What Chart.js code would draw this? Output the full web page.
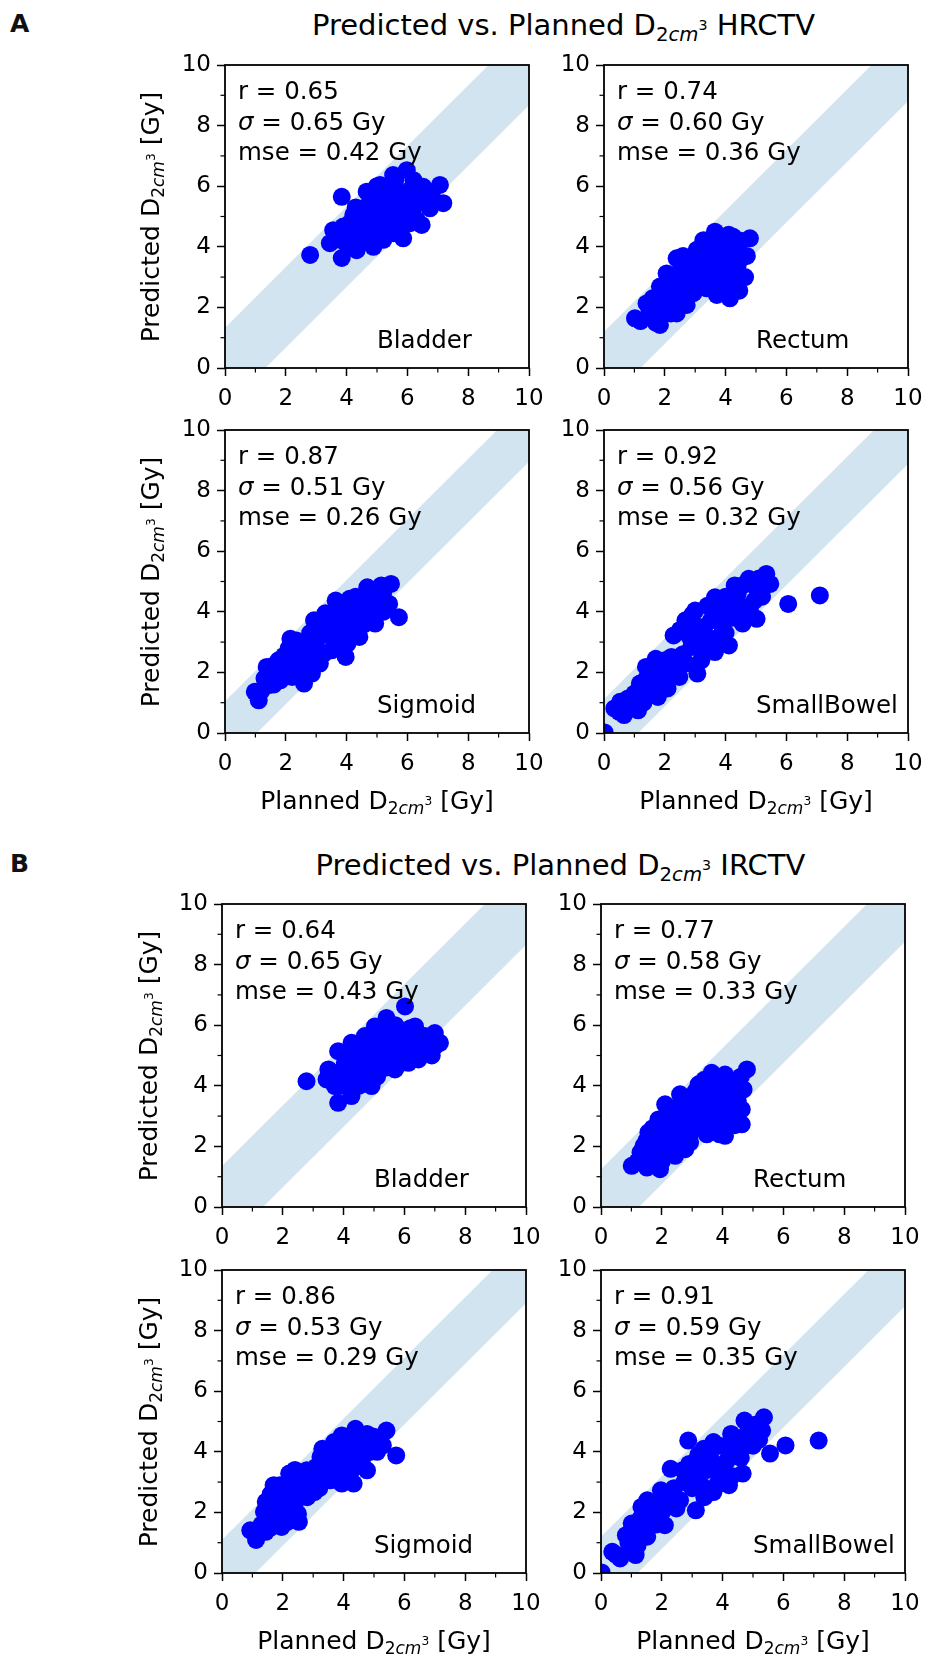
<!DOCTYPE html>
<html>
<head>
<meta charset="utf-8">
<script src="https://cdn.jsdelivr.net/npm/chart.js@4.4.0/dist/chart.umd.min.js"></script>
<style>
  body { margin: 0; background: #fff; }
  #page { position: relative; width: 927px; height: 1654px; overflow: hidden;
          font-family: 'DejaVu Sans', sans-serif; color: #000; }
  canvas { position: absolute; }
  .txt { position: absolute; white-space: nowrap; }
  .letter { font-size: 25px; font-weight: bold; line-height: 30px; color: #111; }
  .title { font-size: 29px; line-height: 34px; transform: translateX(-50%); }
  .axlab { font-size: 25px; line-height: 30px; }
  .ylab { transform: translate(-50%, -50%) rotate(-90deg); }
  .xlab { transform: translateX(-50%); }
  .stats { font-size: 24.5px; line-height: 30.5px; }
  .organ { font-size: 24.5px; line-height: 30px; }
  sub { font-size: 0.68em; vertical-align: -0.28em; line-height: 0; }
  sub sup { font-size: 0.72em; vertical-align: 0.75em; line-height: 0; }
</style>
</head>
<body>
<div id="page"></div>
<script>
// ---- data ----
var organs = ['Bladder', 'Rectum', 'Sigmoid', 'SmallBowel'];
var majorTicks = [0, 2, 4, 6, 8, 10];
var minorTicks = [1, 3, 5, 7, 9];

// A: HRCTV  [planned, predicted]
var hrctvBladder = [[2.80,3.73],[3.84,5.65],[3.84,3.63],[3.45,4.12],[3.56,4.55],[5.98,6.53],[5.53,6.37],[7.07,6.04],
  [7.18,5.44],[6.74,5.27],[6.47,4.72],[5.86,4.28],[4.88,4.00],[4.33,3.89],[4.66,5.82],[5.10,6.04],[6.52,5.98],
  [4.11,4.78],[4.55,5.00],[4.88,5.22],[5.21,5.44],[5.43,5.66],[5.76,5.77],[6.09,5.88],[6.30,5.55],[5.98,5.22],
  [5.65,5.00],[5.32,4.78],[4.99,4.56],[4.66,4.34],[4.33,4.34],[4.00,4.45],[3.78,4.23],[5.54,4.45],[6.09,4.78],
  [5.21,4.23],[4.88,5.66],[4.22,5.05],[3.89,4.67],
  [3.70,4.40],[4.00,4.10],[4.20,4.60],[4.40,4.90],[4.50,4.20],[4.70,4.60],[4.80,5.00],[4.90,4.30],[5.00,5.50],
  [5.10,4.90],[5.20,4.60],[5.30,5.20],[5.40,4.90],[5.50,5.90],[5.60,5.40],[5.70,4.80],[5.90,5.60],[6.00,5.00],
  [6.20,5.30],[6.30,4.90],[6.40,5.70],[6.60,5.60],[6.80,5.80],[6.90,5.50],[4.60,5.30],[4.30,5.30],[5.00,6.00],
  [5.60,6.20],[6.20,6.20]];
var hrctvRectum = [[1.02,1.64],[1.84,1.42],[1.40,2.13],[1.84,2.69],[2.06,3.12],[2.39,3.62],[3.27,4.22],[3.65,4.50],
  [4.25,4.33],[4.80,4.28],[4.58,3.67],[4.64,3.00],[4.14,2.30],[3.71,2.41],[3.38,2.63],[2.72,2.08],[2.39,1.80],
  [3.05,3.90],[2.83,3.23],[3.49,3.56],[3.92,3.78],[4.14,3.24],[3.71,3.01],[3.16,2.90],[2.61,2.69],[2.28,2.35],
  [1.73,1.92],[2.17,2.90],[2.61,3.45],[3.92,2.80],[4.36,3.90],[1.51,1.70],[2.94,2.47],
  [1.20,1.55],[1.50,1.90],[1.60,2.30],[1.70,1.50],[2.00,2.00],[2.00,2.50],[2.20,1.80],[2.30,2.70],[2.40,3.10],
  [2.50,2.30],[2.70,2.90],[2.60,3.70],[2.90,3.50],[3.00,2.70],[3.10,3.30],[3.30,3.80],[3.30,2.90],[3.50,3.20],
  [3.50,4.00],[3.60,2.70],[3.80,3.50],[3.90,4.20],[4.00,3.10],[4.00,2.60],[4.20,3.80],[4.30,2.80],[4.40,3.40],
  [4.50,4.20],[4.70,3.70],[4.10,4.40],[3.80,3.00],[4.45,2.55]];
var hrctvSigmoid = [[0.98,1.36],[1.11,1.08],[1.37,2.18],[1.43,1.58],[1.76,2.40],[2.15,3.11],[2.60,1.63],[2.21,1.85],
  [2.93,3.72],[3.64,4.37],[4.10,4.43],[4.68,4.81],[5.46,4.92],[5.14,4.87],[5.40,4.26],[5.72,3.82],[4.94,3.61],
  [4.42,3.17],[3.97,2.51],[3.51,2.73],[3.12,2.29],[1.82,1.74],[1.69,2.07],[2.08,2.29],[2.47,2.62],[2.73,2.95],
  [3.12,3.28],[3.38,3.61],[3.77,3.93],[4.16,4.04],[4.55,4.26],[4.94,4.15],[4.42,3.72],[3.90,3.50],[3.51,3.17],
  [2.99,2.73],[2.60,2.18],[2.21,2.07],[2.86,1.96],[3.25,2.62],[4.03,2.95],[4.68,3.93],[1.43,1.96],[5.07,4.54],
  [1.20,1.40],[1.30,1.80],[1.55,2.20],[1.60,1.60],[1.90,1.95],[1.95,2.55],[2.10,2.80],[2.30,2.40],[2.40,1.90],
  [2.50,2.90],[2.70,2.45],[2.80,3.30],[2.90,2.20],[3.00,3.00],[3.20,2.60],[3.30,3.95],[3.40,3.35],[3.60,2.90],
  [3.60,3.80],[3.70,3.30],[3.80,4.30],[3.90,2.80],[4.00,3.70],[4.20,3.35],[4.30,4.50],[4.40,4.00],[4.60,3.60],
  [4.80,4.50],[4.80,3.90],[5.00,4.30],[5.20,4.60],[5.20,4.00],[3.05,3.60],[2.35,3.05]];
var hrctvSmallBowel = [[0.02,0.02],[0.34,0.81],[0.66,0.59],[1.12,0.75],[0.79,1.14],[1.18,1.63],[1.38,2.18],[1.70,2.45],
  [2.22,2.51],[2.48,1.85],[2.09,1.47],[1.77,1.19],[2.29,3.22],[2.68,3.72],[3.00,4.04],[3.07,1.96],[3.65,4.48],
  [3.65,2.67],[4.11,2.89],[4.30,4.87],[4.76,5.09],[5.34,5.25],[5.47,4.92],[5.02,3.77],[4.56,3.61],[6.06,4.26],
  [7.10,4.54],[3.26,3.17],[3.91,3.39],[4.43,4.26],[3.52,3.72],[4.95,4.37],[2.87,2.84],[1.57,1.96],[1.96,2.07],
  [1.31,1.41],[0.53,1.03],[4.17,4.04],[3.13,3.50],[2.48,2.51],[1.83,1.74],
  [0.50,0.70],[0.90,0.90],[1.00,1.30],[1.30,1.00],[1.40,1.80],[1.50,1.30],[1.60,2.20],[1.90,1.80],[2.00,2.40],
  [2.20,2.00],[2.40,2.20],[2.60,2.60],[2.50,3.40],[2.80,3.20],[2.90,3.90],[3.10,2.80],[3.30,3.50],[3.40,4.20],
  [3.40,2.90],[3.60,3.10],[3.80,4.00],[3.80,3.70],[4.00,3.30],[4.00,4.50],[4.20,3.80],[4.40,4.60],[4.50,3.90],
  [4.60,4.90],[4.80,4.10],[5.00,4.80],[5.20,4.50],[5.10,5.10],[3.20,2.40],[2.70,2.30]];
var hrctvR = ['0.65', '0.74', '0.87', '0.92'];
var hrctvSigma = ['0.65', '0.60', '0.51', '0.56'];
var hrctvMse = ['0.42', '0.36', '0.26', '0.32'];
var hrctvBand = [1.33, 1.2, 1.05, 1.12];

// B: IRCTV
var irctvBladder = [[2.78,4.15],[3.82,3.44],[4.26,3.66],[3.44,4.21],[3.50,4.54],[3.82,5.14],[4.26,5.42],[4.92,3.99],
  [5.69,4.54],[6.46,4.87],[7.17,5.42],[7.00,5.74],[6.02,6.62],[5.41,6.24],[6.35,5.96],[4.04,4.76],[4.48,4.98],
  [4.81,5.31],[5.14,5.64],[5.58,5.96],[5.91,5.74],[6.24,5.42],[6.68,5.31],[5.91,5.09],[5.47,4.87],[5.14,4.65],
  [4.81,4.43],[4.48,4.21],[4.15,4.21],[3.82,4.43],[4.70,5.64],[5.03,5.96],[5.36,5.42],[5.69,5.31],[4.59,4.65],
  [3.71,3.99],[6.13,4.76],[6.68,5.64],
  [3.60,4.30],[3.90,4.00],[4.00,4.50],[4.10,5.00],[4.30,4.40],[4.40,5.20],[4.50,4.00],[4.60,4.80],[4.70,4.30],
  [4.80,5.50],[4.90,4.70],[5.00,5.10],[5.10,4.30],[5.20,5.80],[5.30,5.00],[5.40,4.60],[5.50,5.60],[5.60,4.90],
  [5.70,6.00],[5.80,5.50],[6.00,5.30],[6.10,4.90],[6.20,5.90],[6.40,5.60],[6.50,5.10],[6.80,5.50],[6.90,5.00],
  [7.00,5.30],[5.80,4.70],[4.20,4.80]];
var irctvRectum = [[1.01,1.36],[1.51,1.30],[1.94,1.25],[1.40,2.02],[1.56,2.46],[1.89,2.89],[2.11,3.39],[2.60,3.72],
  [3.21,4.05],[3.64,4.43],[4.08,4.37],[4.80,4.54],[4.69,3.88],[4.63,3.22],[4.63,2.73],[4.08,2.35],[3.48,2.40],
  [2.93,2.13],[2.44,1.69],[1.78,1.91],[2.22,2.24],[2.00,2.57],[2.44,2.78],[2.77,3.11],[2.99,3.55],[3.43,3.66],
  [3.87,3.88],[4.19,3.55],[3.87,3.22],[3.43,3.00],[3.10,2.68],[2.66,2.46],[4.30,2.89],[2.33,3.22],[1.67,2.24],
  [2.77,1.91],[3.76,2.68],[4.41,4.10],
  [1.20,1.50],[1.30,1.80],[1.60,1.60],[1.50,2.20],[1.70,2.60],[1.90,2.10],[2.00,1.50],[2.10,2.90],[2.20,1.90],
  [2.30,2.60],[2.50,3.30],[2.50,2.20],[2.60,2.90],[2.80,3.50],[2.80,2.60],[2.90,2.30],[3.00,3.00],[3.10,3.80],
  [3.20,3.30],[3.30,2.60],[3.40,4.20],[3.50,3.40],[3.60,2.90],[3.70,4.00],[3.80,3.10],[3.90,3.60],[4.00,2.60],
  [4.00,4.10],[4.20,3.20],[4.30,3.80],[4.40,2.70],[4.50,3.50],[4.60,4.30],[3.90,2.40]];
var irctvSigmoid = [[0.93,1.41],[1.12,1.09],[1.44,1.36],[1.38,2.02],[1.44,2.35],[1.70,2.90],[1.96,1.52],[2.53,1.69],
  [2.21,3.28],[2.79,3.39],[3.04,2.67],[3.24,3.83],[3.56,3.06],[3.94,2.95],[4.33,2.95],[4.39,3.50],[4.77,3.39],
  [3.94,4.54],[4.39,4.76],[4.77,4.59],[5.41,4.70],[5.73,3.88],[5.29,4.21],[1.76,2.24],[2.15,2.56],[2.53,2.78],
  [2.92,3.11],[3.30,3.44],[3.69,3.77],[4.07,4.10],[4.45,4.21],[4.84,3.99],[3.94,3.55],[3.56,3.44],[3.17,3.00],
  [2.66,2.56],[2.28,2.13],[1.76,1.80],[3.69,4.32],[4.33,3.88],[2.15,1.69],
  [1.10,1.30],[1.30,1.60],[1.50,1.90],[1.60,2.60],[1.60,1.50],[1.90,2.00],[1.90,2.90],[2.00,2.40],[2.30,2.90],
  [2.40,2.30],[2.50,1.95],[2.60,3.10],[2.80,2.50],[2.90,3.00],[3.10,3.50],[3.20,2.80],[3.40,3.20],[3.50,3.80],
  [3.70,3.20],[3.80,4.10],[3.90,3.00],[4.00,3.80],[4.10,4.50],[4.20,3.20],[4.30,4.00],[4.50,4.50],[4.60,3.70],
  [4.70,4.20],[5.00,4.50],[5.10,4.00],[3.30,4.10],[2.40,3.40]];
var irctvSmallBowel = [[0.02,0.02],[0.37,0.70],[0.63,0.48],[1.14,0.59],[0.82,1.25],[1.01,1.63],[1.33,2.18],[1.52,2.40],
  [1.52,1.20],[2.10,1.58],[1.97,2.73],[2.48,2.13],[2.29,3.44],[2.87,4.37],[2.74,3.00],[3.12,2.07],[3.32,3.55],
  [3.70,4.32],[3.70,2.67],[4.21,2.90],[4.28,4.59],[4.72,5.03],[5.36,5.14],[5.30,4.70],[5.56,3.94],[4.66,3.28],
  [6.07,4.21],[7.16,4.37],[4.15,3.72],[4.79,4.21],[3.38,4.10],[3.00,3.22],[3.89,3.22],[4.53,3.88],[4.98,4.54],
  [1.72,1.91],[1.27,1.47],[2.36,2.56],[1.84,2.24],[0.95,0.92],
  [0.50,0.60],[0.90,1.00],[1.00,1.40],[1.20,0.90],[1.30,1.80],[1.50,1.60],[1.60,2.10],[1.80,1.60],[2.00,2.00],
  [2.20,2.30],[2.40,2.80],[2.60,2.40],[2.70,3.40],[2.90,3.60],[3.00,2.80],[3.20,3.90],[3.30,2.90],[3.50,3.40],
  [3.60,3.80],[3.80,2.90],[3.90,4.20],[4.00,3.50],[4.20,4.10],[4.30,3.20],[4.40,4.40],[4.60,3.80],[4.80,4.60],
  [5.00,4.20],[5.10,4.90],[5.20,4.40],[3.40,2.50]];
var irctvR = ['0.64', '0.77', '0.86', '0.91'];
var irctvSigma = ['0.65', '0.58', '0.53', '0.59'];
var irctvMse = ['0.43', '0.33', '0.29', '0.35'];
var irctvBand = [1.35, 1.25, 1.1, 1.2];

// ---- layout ----
var page = document.getElementById('page');
var PLOT_W = 304, PLOT_H = 303;
var PAD_L = 70, PAD_T = 20, PAD_R = 30, PAD_B = 50;
var FONT = "'DejaVu Sans', sans-serif";
var D2CM3 = 'D<sub>2<i>cm</i><sup>3</sup></sub>';

function addText(cls, html, left, top) {
  var d = document.createElement('div');
  d.className = 'txt ' + cls;
  d.innerHTML = html;
  d.style.left = left + 'px';
  d.style.top = top + 'px';
  page.appendChild(d);
  return d;
}

// frame (all four spines) and the small minor ticks
var framePlugin = {
  id: 'frame',
  afterDatasetsDraw: function (chart) {
    var a = chart.chartArea, ctx = chart.ctx;
    ctx.save();
    ctx.strokeStyle = '#000';
    ctx.lineWidth = 1.2;
    minorTicks.forEach(function (v) {
      var px = chart.scales.x.getPixelForValue(v);
      var py = chart.scales.y.getPixelForValue(v);
      ctx.beginPath(); ctx.moveTo(px, a.bottom); ctx.lineTo(px, a.bottom + 4.5); ctx.stroke();
      ctx.beginPath(); ctx.moveTo(a.left, py); ctx.lineTo(a.left - 4.5, py); ctx.stroke();
    });
    ctx.lineWidth = 1.8;
    ctx.strokeRect(a.left, a.top, a.right - a.left, a.bottom - a.top);
    ctx.restore();
  }
};

function axisOpts(isX) {
  return {
    type: 'linear',
    min: 0,
    max: 10,
    afterBuildTicks: function (s) { s.ticks = majorTicks.map(function (v) { return { value: v }; }); },
    afterFit: function (s) { if (isX) s.height = PAD_B; else s.width = PAD_L; },
    ticks: {
      color: '#000',
      font: { family: FONT, size: 23 },
      padding: isX ? 9 : 6,
      autoSkip: false,
      maxRotation: 0
    },
    grid: { drawOnChartArea: false, tickLength: 8, tickColor: '#000', tickWidth: 1.5 },
    border: { display: false }
  };
}

function makePanel(left, top, points, band, r, sigma, mse, organ) {
  var canvas = document.createElement('canvas');
  canvas.width = PLOT_W + PAD_L + PAD_R;
  canvas.height = PLOT_H + PAD_T + PAD_B;
  canvas.style.left = (left - PAD_L) + 'px';
  canvas.style.top = (top - PAD_T) + 'px';
  page.appendChild(canvas);

  new Chart(canvas.getContext('2d'), {
    type: 'scatter',
    data: {
      datasets: [{
        type: 'scatter',
        data: points.map(function (p) { return { x: p[0], y: p[1] }; }),
        pointRadius: 9,
        pointBackgroundColor: '#0000ff',
        pointBorderWidth: 0,
        pointBorderColor: '#0000ff',
        clip: 0,
        order: 0
      }, {
        type: 'line',
        data: [{ x: -1, y: -1 + band }, { x: 11, y: 11 + band }],
        borderColor: 'rgba(0,0,0,0)',
        borderWidth: 0,
        pointRadius: 0,
        fill: false,
        order: 1
      }, {
        type: 'line',
        data: [{ x: -1, y: -1 - band }, { x: 11, y: 11 - band }],
        borderColor: 'rgba(0,0,0,0)',
        borderWidth: 0,
        pointRadius: 0,
        fill: '-1',
        backgroundColor: 'rgba(31,119,180,0.2)',
        order: 2
      }]
    },
    options: {
      responsive: false,
      animation: false,
      devicePixelRatio: 1,
      events: [],
      layout: { padding: { top: PAD_T, right: PAD_R, left: 0, bottom: 0 } },
      scales: { x: axisOpts(true), y: axisOpts(false) },
      plugins: { legend: { display: false }, tooltip: { enabled: false } }
    },
    plugins: [framePlugin]
  });

  addText('stats', 'r = ' + r + '<br><i>\u03c3</i> = ' + sigma + ' Gy<br>mse = ' + mse + ' Gy',
          left + 13, top + 11);
  addText('organ', organ, left + 152, top + PLOT_H - 43);
}

function makeFigure(letter, title, top0, cols, rows, sets, bands, rs, sigmas, mses, ylabX) {
  addText('letter', letter, 10, top0 + 9);
  addText('title', title, (cols[0] + cols[1] + PLOT_W) / 2 - 3, top0 + 8);
  for (var i = 0; i < 4; i++) {
    var c = i % 2, rr = Math.floor(i / 2);
    makePanel(cols[c], rows[rr], sets[i], bands[i], rs[i], sigmas[i], mses[i], organs[i]);
  }
  rows.forEach(function (y) {
    addText('axlab ylab', 'Predicted ' + D2CM3 + ' [Gy]', ylabX, y + PLOT_H / 2);
  });
  cols.forEach(function (x) {
    addText('axlab xlab', 'Planned ' + D2CM3 + ' [Gy]', x + PLOT_W / 2, rows[1] + PLOT_H + 53);
  });
}

makeFigure('A', 'Predicted vs. Planned ' + D2CM3 + ' HRCTV', 0, [225, 604], [65, 430],
  [hrctvBladder, hrctvRectum, hrctvSigmoid, hrctvSmallBowel], hrctvBand, hrctvR, hrctvSigma, hrctvMse, 151);
makeFigure('B', 'Predicted vs. Planned ' + D2CM3 + ' IRCTV', 840, [222, 601], [904, 1270],
  [irctvBladder, irctvRectum, irctvSigmoid, irctvSmallBowel], irctvBand, irctvR, irctvSigma, irctvMse, 149);
</script>
</body>
</html>
